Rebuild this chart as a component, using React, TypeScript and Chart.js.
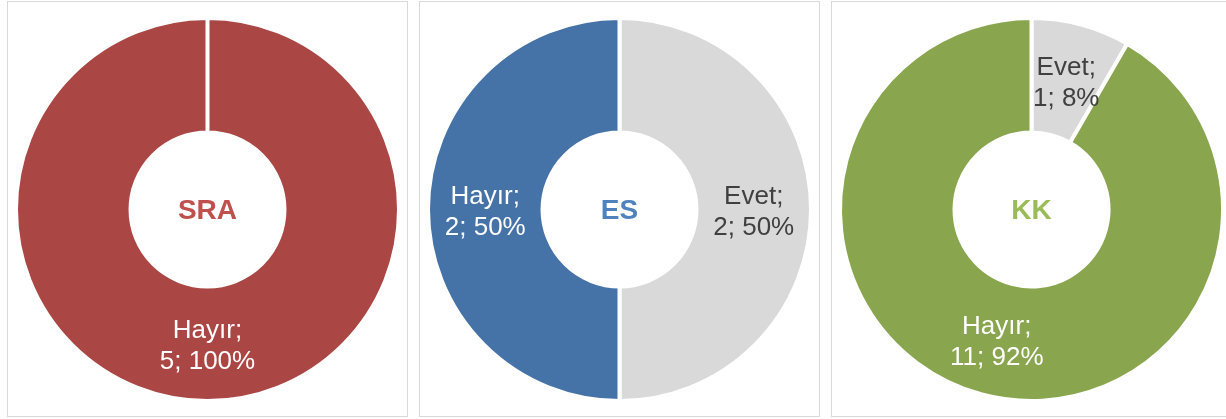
import React, { useEffect, useRef } from "react";
import { Chart, registerables } from "chart.js";

Chart.register(...registerables);

// ---- data ----
const panelTitles = ["SRA", "ES", "KK"];
const categories = ["Evet", "Hayır"];
const evetValues = [0, 2, 1];
const hayirValues = [5, 2, 11];

// ---- styles ----
const sliceColors = [
  ["#D9D9D9", "#AA4643"],
  ["#D9D9D9", "#4572A7"],
  ["#D9D9D9", "#89A54E"],
];
const titleColors = ["#C0504D", "#4F81BD", "#9BBB59"];
const labelColors = ["#404040", "#FFFFFF"];
const panelLefts = [7, 419, 831];
const FONT = "'Liberation Sans', Arial, sans-serif";

function Donut({ index }: { index: number }) {
  const ref = useRef<HTMLCanvasElement>(null);

  useEffect(() => {
    if (!ref.current) return;
    const values = [evetValues[index], hayirValues[index]];
    const total = values.reduce((a, b) => a + b, 0);

    const labelPlugin = {
      id: "donutLabels",
      afterDatasetsDraw(chart: any) {
        const ctx = chart.ctx as CanvasRenderingContext2D;
        const meta = chart.getDatasetMeta(0);
        ctx.save();
        ctx.textAlign = "center";
        ctx.textBaseline = "middle";
        ctx.font = `26px ${FONT}`;
        meta.data.forEach((arc: any, i: number) => {
          const v = values[i];
          if (!v) return;
          const p = arc.getProps(
            ["x", "y", "startAngle", "endAngle", "innerRadius", "outerRadius"],
            true
          );
          const mid = (p.startAngle + p.endAngle) / 2;
          const r = (p.innerRadius + p.outerRadius) / 2;
          const px = p.x + Math.cos(mid) * r;
          const py = p.y + Math.sin(mid) * r + 3;
          ctx.fillStyle = labelColors[i];
          ctx.fillText(`${categories[i]};`, px, py - 15.5);
          ctx.fillText(`${v}; ${Math.round((v / total) * 100)}%`, px, py + 15.5);
        });
        const a0 = meta.data[0];
        ctx.font = `bold 28px ${FONT}`;
        ctx.fillStyle = titleColors[index];
        ctx.fillText(panelTitles[index], a0.x, a0.y + 2);
        ctx.restore();
      },
    };

    const chart = new Chart(ref.current, {
      type: "doughnut",
      data: {
        labels: categories,
        datasets: [
          {
            data: values,
            backgroundColor: sliceColors[index],
            borderColor: "#FFFFFF",
            borderWidth: 4,
            hoverOffset: 0,
            offset: 0,
          },
        ],
      },
      options: {
        animation: false,
        responsive: false,
        radius: 191.5,
        cutout: "40.2%",
        rotation: 0,
        events: [],
        layout: { padding: { top: 11, bottom: 10, left: 10, right: 10 } },
        plugins: {
          legend: { display: false },
          tooltip: { enabled: false },
        },
      } as any,
      plugins: [labelPlugin],
    });
    return () => chart.destroy();
  }, [index]);

  return (
    <div
      style={{
        position: "absolute",
        left: panelLefts[index],
        top: 1,
        width: 401,
        height: 416,
        boxSizing: "border-box",
        border: "1px solid #D9D9D9",
        background: "#FFFFFF",
      }}
    >
      <canvas ref={ref} width={399} height={414} style={{ display: "block" }} />
    </div>
  );
}

export default function App() {
  return (
    <div
      style={{
        position: "absolute",
        left: 0,
        top: 0,
        width: 1226,
        height: 419,
        overflow: "hidden",
        background: "#FFFFFF",
      }}
    >
      {panelTitles.map((_, i) => (
        <Donut key={i} index={i} />
      ))}
    </div>
  );
}
